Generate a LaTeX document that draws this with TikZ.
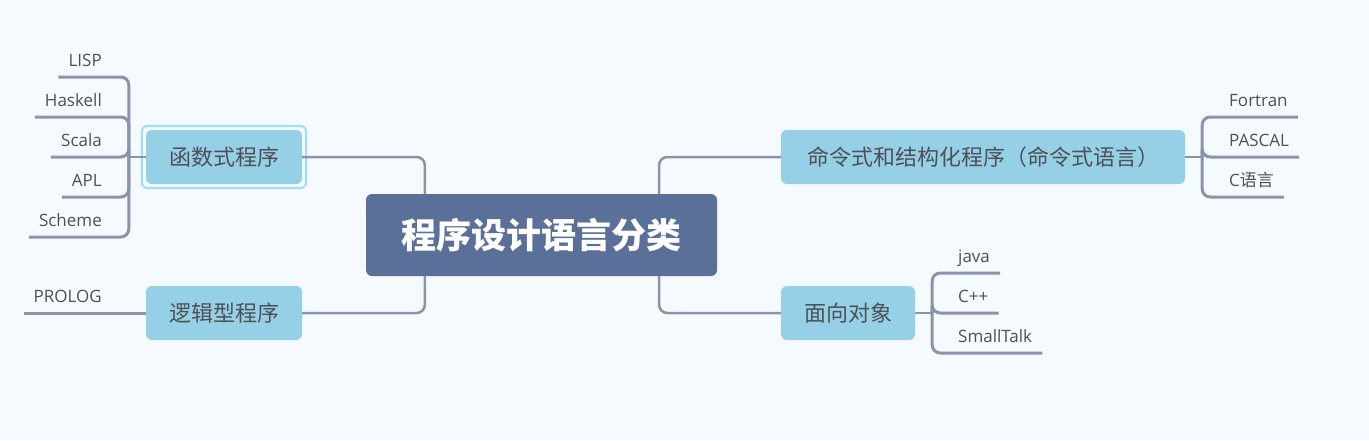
\documentclass[tikz,border=0pt]{standalone}
\usepackage{fontspec}
\setmainfont{Open Sans}
\newfontfamily\cjk{Noto Sans CJK SC}
\usetikzlibrary{fit,calc}
\definecolor{bgc}{RGB}{245,250,254}
\definecolor{rootc}{RGB}{90,112,152}
\definecolor{mainc}{RGB}{150,208,230}
\definecolor{selc}{RGB}{160,221,250}
\definecolor{connc}{RGB}{138,148,168}
\definecolor{txtc}{RGB}{77,80,86}
\tikzset{
  root/.style={fill=rootc, rounded corners=6pt, minimum width=351pt, minimum height=82pt, inner sep=0pt,
    text=white, font=\cjk\bfseries\fontsize{35}{40}\selectfont},
  maintopic/.style={fill=mainc, rounded corners=6pt, minimum height=54pt, inner sep=0pt,
    text=txtc, font=\cjk\fontsize{22}{26}\selectfont},
  sel/.style={draw=selc, line width=2pt, rounded corners=6pt, inner sep=4pt},
  leaf/.style={inner xsep=10pt, inner ysep=0pt, text=txtc, font=\fontsize{17}{20}\selectfont},
  conn/.style={draw=connc, line width=2.5pt, rounded corners=8pt},
  subconn/.style={draw=connc, line width=3pt, rounded corners=8pt},
}
\begin{document}
\begin{tikzpicture}[x=1pt,y=-1pt]
\useasboundingbox[fill=bgc] (0,0) rectangle (1369,440);
% nodes
\node[root] (root) at (541.5,235) {程序设计语言分类};
\node[maintopic, minimum width=156pt] (func) at (224,157) {函数式程序};
\node[sel, fit=(func)] (funcsel) {};
\node[maintopic, minimum width=156pt] (logic) at (224,313) {逻辑型程序};
\node[maintopic, minimum width=404pt] (imp) at (983,157) {命令式和结构化程序（命令式语言）};
\node[maintopic, minimum width=134pt] (oo) at (848,313) {面向对象};
% main connectors
\draw[conn] ($(root.north west)+(59,0)$) |- (func.east);
\draw[conn] ($(root.south west)+(59,0)$) |- (logic.east);
\draw[conn] ($(root.north east)+(-58,0)$) |- (imp.west);
\draw[conn] ($(root.south east)+(-58,0)$) |- (oo.west);
% functional leaves
\coordinate (fb) at ($(funcsel.west)+(-12,0)$);
\draw[conn] (func.west) -- (fb);
\node[leaf, anchor=base east] (lisp) at (112,66) {LISP};
\node[leaf, anchor=base east] (haskell) at (112,106) {Haskell};
\node[leaf, anchor=base east] (scala) at (112,146) {Scala};
\node[leaf, anchor=base east] (apl) at (112,186) {APL};
\node[leaf, anchor=base east] (scheme) at (112,226) {Scheme};
\foreach \n in {lisp,haskell,scala,apl,scheme}
  \draw[subconn] (fb) |- ([yshift=-11pt]\n.base west);
% logic leaf
\node[leaf, anchor=base east] (prolog) at (112,302) {PROLOG};
\draw[subconn] (logic.west) -- ([yshift=-11pt]prolog.base west);
% imperative leaves
\coordinate (ib) at ($(imp.east)+(17,0)$);
\draw[conn] (imp.east) -- (ib);
\node[leaf, anchor=base west] (fortran) at (1219,106) {Fortran};
\node[leaf, anchor=base west] (pascal) at (1219,146) {PASCAL};
\node[leaf, anchor=base west] (clang) at (1219,186) {C{\cjk 语言}};
\foreach \n in {fortran,pascal,clang}
  \draw[subconn] (ib) |- ([yshift=-11pt]\n.base east);
% OO leaves
\coordinate (ob) at ($(oo.east)+(17,0)$);
\draw[conn] (oo.east) -- (ob);
\node[leaf, anchor=base west] (java) at (948,262) {java};
\node[leaf, anchor=base west] (cpp) at (948,302) {C++};
\node[leaf, anchor=base west] (small) at (948,342) {SmallTalk};
\foreach \n in {java,cpp,small}
  \draw[subconn] (ob) |- ([yshift=-11pt]\n.base east);
\end{tikzpicture}
\end{document}
